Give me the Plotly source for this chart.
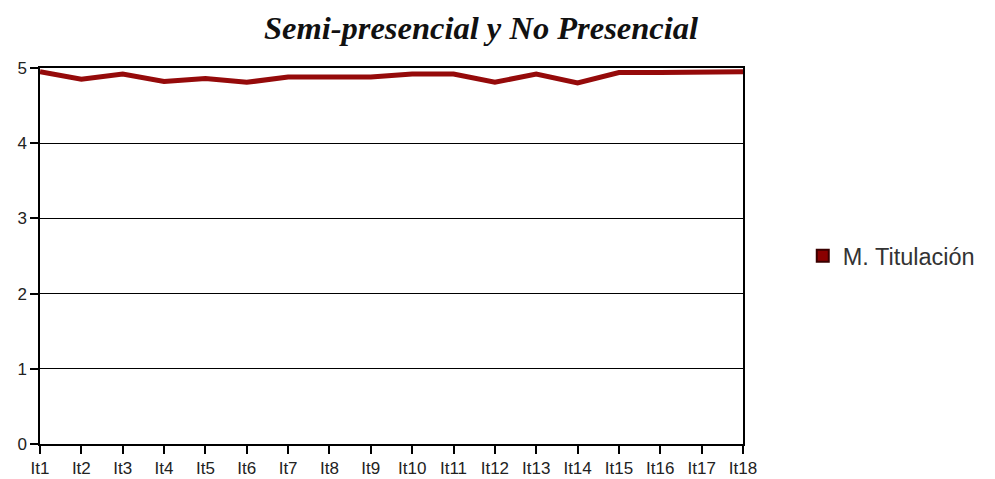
import plotly.graph_objects as go

categories = [f"It{i}" for i in range(1, 19)]
values = [4.95, 4.85, 4.92, 4.82, 4.86, 4.81, 4.88, 4.88, 4.88, 4.92, 4.92, 4.81, 4.92, 4.80, 4.94, 4.94, 4.95, 4.95]
series_name = "M. Titulación"
title_text = "Semi-presencial y No Presencial"
y_ticks = [0, 1, 2, 3, 4, 5]

line_color = "#950a0a"

fig = go.Figure()
fig.add_trace(go.Scatter(
    x=categories, y=values, mode="lines",
    line=dict(color=line_color, width=5),
    showlegend=False, name=series_name,
))
fig.add_trace(go.Scatter(
    x=[None], y=[None], mode="markers", name=series_name,
    marker=dict(symbol="square", size=18, color="#8b0000",
                line=dict(color="#3a0000", width=1)),
    showlegend=True,
))

fig.update_layout(
    width=995, height=479,
    margin=dict(l=40, r=252, t=68, b=35),
    paper_bgcolor="white", plot_bgcolor="white",
    title=dict(text=f"<b><i>{title_text}</i></b>", x=481 / 995, xanchor="center",
               y=1 - 28 / 479, yanchor="middle",
               font=dict(family="Liberation Serif, Times New Roman, serif", size=32.5, color="#111")),
    font=dict(family="Liberation Sans, Arial, sans-serif", size=17, color="#222"),
    legend=dict(x=1.085, xanchor="left", y=0.5, yanchor="middle",
                font=dict(size=23.5, color="#333"), itemsizing="constant",
                bgcolor="rgba(0,0,0,0)", borderwidth=0),
    xaxis=dict(
        type="category", categoryorder="array", categoryarray=categories,
        range=[0, len(categories) - 1], automargin=False,
        showgrid=False, showline=True, linecolor="black", linewidth=1.5,
        ticks="outside", ticklen=8, tickcolor="black", tickwidth=1.5,
        mirror=True, zeroline=False,
        tickfont=dict(size=17, color="#222"),
    ),
    yaxis=dict(
        range=[0, 5], tickvals=y_ticks, automargin=False,
        showgrid=True, gridcolor="black", gridwidth=1.3,
        showline=True, linecolor="black", linewidth=1.5, mirror=True,
        ticks="outside", ticklen=8, tickcolor="black", tickwidth=1.5,
        zeroline=False, tickfont=dict(size=17, color="#222"),
    ),
)

fig.write_html("out.html", config={"displayModeBar": False},
               post_script="document.body.style.margin='0';")
